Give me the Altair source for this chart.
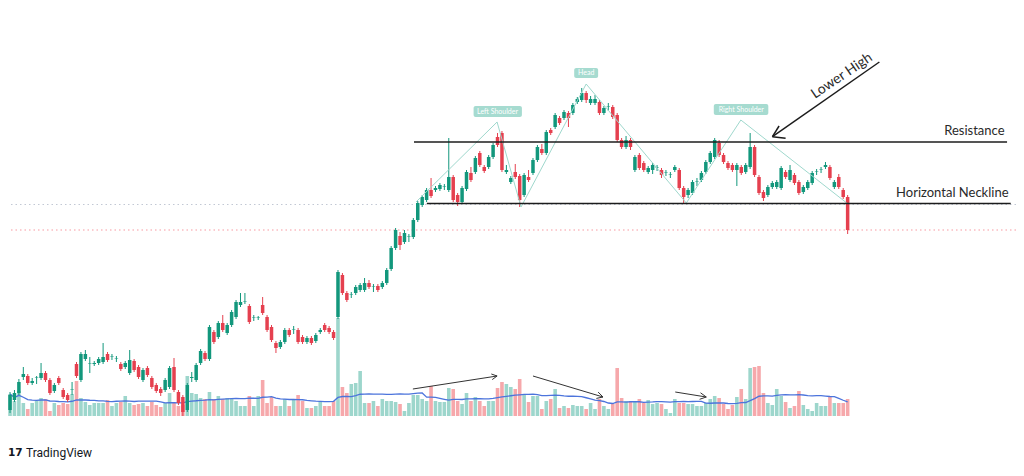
import altair as alt
import pandas as pd

# ---------------- candle data (price units) ----------------
opens = [
    90, 100, 107, 123, 124, 117, 122, 122, 127, 120,
    109, 122, 110, 105, 110, 136, 120, 141, 136, 136,
    137, 138, 146, 143, 141, 136, 133, 127, 139, 133,
    120, 132, 122, 115, 111, 110, 113, 133, 108, 103,
    90, 122, 120, 137,
    147, 141, 168, 163, 177, 167, 175, 183, 195, 198,
    194, 182, 182, 195, 183, 173, 157, 153, 158, 170,
    170, 170, 163, 158, 162, 159, 168, 175, 172, 168,
    183, 225, 207, 205, 207, 210, 210, 217, 213, 214,
    213, 217, 231, 252, 264, 258, 263, 263, 280, 295,
    300, 310, 310, 311, 313, 310, 323, 305, 298, 311,
    327, 328, 347, 333, 333, 343, 363, 367, 328, 318,
    328, 324, 305, 323, 327, 340, 351, 347, 370, 373,
    382, 382, 387, 387, 398, 400, 407, 397, 397, 398,
    387, 393, 393, 385, 360, 353, 360, 330, 345, 337,
    328, 330, 332, 330, 327, 325, 330, 330, 312, 305,
    307, 318, 320, 328, 338, 343, 357, 345, 337, 335,
    330, 333, 328, 333, 353, 323, 308, 305, 313, 313,
    312, 328, 320, 325, 318, 308, 312, 317, 328, 330,
    333, 333, 313, 323, 310, 303,
]
closes = [
    105, 107, 118, 126, 117, 119, 122.5, 127, 120, 107,
    115, 117, 103, 100, 110.5, 124, 146, 146, 136.5, 137,
    141, 143, 140, 143.5, 141.5, 131, 137, 140, 130, 123,
    130, 125, 113, 109, 107, 120, 132, 110, 97, 88,
    115, 123, 135, 149,
    141, 173, 158, 177, 170, 175, 188, 198, 198, 198.5,
    178, 182.5, 182.5, 187, 170, 160, 152, 158, 170, 165,
    170.5, 158, 158, 162, 157, 165, 170, 170, 168, 162,
    228, 207, 200, 205.5, 213, 215, 217, 213, 213.5, 210,
    217, 230, 252, 270, 255, 267, 263.5, 280, 297, 303,
    310, 304, 312, 315, 313.5, 323, 300, 298, 312, 328,
    320, 342, 335, 329, 343, 355, 355, 330, 330, 322,
    323, 300, 325, 320, 340, 353, 347, 368, 367, 385,
    377, 388, 382, 395, 401, 407, 400, 401, 401, 387,
    392, 393.5, 383, 360, 353, 360, 353, 343, 332, 330,
    332, 335, 332.5, 325, 327.5, 325.5, 333, 312, 303, 310,
    318, 318.5, 327, 338, 347, 360, 345, 338, 332, 330,
    335, 327, 335, 353, 325, 307, 302, 313, 317, 318,
    332, 323, 330, 317, 307, 313, 318, 327, 328.5, 330.5,
    335, 322, 318, 313, 303, 270,
]
highs = [
    108, 110, 121, 133, 126, 122, 124, 137, 129, 122,
    117, 124, 112, 107, 118, 138, 148, 150, 143, 139,
    143, 157, 148, 146, 144, 138, 139, 150, 141, 135,
    132, 134, 124, 117, 113, 122, 134, 142, 110, 105,
    117, 128, 137, 151,
    149, 175, 170, 179, 185, 177, 190, 200, 207, 207,
    196, 185, 184, 203, 185, 175, 159, 160, 172, 172,
    174, 172, 165, 164, 164, 167, 172, 177, 174, 170,
    230, 227, 209, 208, 215, 217, 222, 220, 216, 216,
    219, 232, 254, 272, 268, 270, 266, 282, 299, 305,
    312, 322, 314, 317, 316, 362, 325, 307, 314, 330,
    333, 344, 349, 335, 345, 357, 367, 369, 335, 324,
    336, 326, 327, 330, 342, 355, 356, 370, 372, 387,
    384, 390, 389, 397, 403, 412, 409, 404, 405, 400,
    394, 397, 395, 387, 362, 364, 362, 345, 347, 339,
    334, 337, 335, 332, 330, 328, 335, 332, 314, 312,
    320, 322, 329, 340, 349, 362, 360, 347, 339, 337,
    337, 335, 337, 367, 355, 325, 310, 315, 319, 320,
    334, 330, 335, 327, 320, 315, 320, 329, 331, 333,
    338, 335, 320, 326, 312, 305,
]
lows = [
    87, 98, 105, 120, 115, 115, 116, 120, 118, 105,
    107, 115, 101, 98, 105, 122, 118, 139, 127, 134,
    135, 136, 138, 140, 138, 129, 131, 125, 128, 121,
    118, 123, 111, 107, 104, 108, 111, 108, 95, 84,
    88, 118, 118, 135,
    139, 139, 156, 161, 168, 165, 173, 181, 193, 196,
    176, 179, 180, 185, 168, 158, 147, 151, 156, 163,
    166, 156, 156, 156, 155, 157, 166, 168, 166, 160,
    181, 205, 198, 202, 205, 208, 208, 211, 208, 208,
    211, 215, 229, 250, 250, 256, 258, 261, 278, 293,
    298, 302, 308, 309, 310, 308, 298, 294, 296, 309,
    318, 326, 333, 327, 331, 341, 353, 328, 326, 316,
    321, 293, 303, 318, 325, 338, 345, 345, 365, 371,
    375, 380, 373, 385, 396, 398, 397, 395, 395, 385,
    385, 389, 381, 358, 351, 351, 350, 328, 330, 328,
    326, 326, 329, 322, 324, 322, 328, 310, 297, 302,
    305, 314, 318, 326, 336, 341, 343, 336, 330, 328,
    314, 325, 326, 331, 323, 305, 299, 303, 311, 311,
    310, 321, 318, 315, 305, 306, 310, 315, 325, 327,
    331, 320, 311, 311, 301, 266,
]
volumes = [
    22, 15, 25, 13, 7, 13, 15, 18, 17, 5,
    13, 11, 13, 12, 22, 35, 18, 14, 11, 13,
    13, 13, 16, 10, 13, 14, 20, 13, 11, 12,
    13, 10, 14, 11, 9, 13, 23, 13, 10, 11,
    40, 23, 22, 18,
    17, 24, 17, 20, 17, 18, 17, 15, 10, 10,
    20, 10, 20, 36, 13, 19, 10, 10, 17, 10,
    17, 21, 15, 8, 8, 10, 14, 10, 10, 15,
    98, 29, 23, 32, 33, 45, 13, 13, 15, 10,
    17, 15, 15, 14, 12, 5, 13, 21, 21, 17,
    15, 30, 15, 14, 14, 28, 27, 15, 12, 23,
    15, 19, 15, 10, 15, 15, 28, 34, 32, 29,
    27, 37, 22, 14, 20, 20, 7, 15, 17, 27,
    8, 10, 8, 11, 10, 10, 7, 13, 7, 17,
    10, 7, 12, 48, 18, 15, 15, 15, 17, 13,
    16, 12, 13, 12, 7, 3, 17, 13, 13, 12,
    12, 10, 10, 13, 17, 20, 18, 12, 7, 11,
    19, 27, 17, 48, 49, 50, 23, 13, 11, 27,
    20, 14, 8, 10, 25, 11, 7, 5, 13, 10,
    10, 19, 13, 13, 13, 17,
]

# ---------------- annotations (chart coordinates) ----------------
level_names = ["Resistance", "Horizontal Neckline"]
level_price = [358, 296.5]
level_start = [91.15, 94.05]
level_end = [224.97, 225.8]
level_label_i = [224.4, 225.3]
level_label_p = [365, 303]

last_price = [270]
neck_dotted = [295.5]

pattern_i = [91.6, 109.9, 115.3, 130.0, 152.6, 164.9, 188.8]
pattern_p = [298, 378, 293, 416, 297, 380, 297]

tag_names = ["Left Shoulder", "Head", "Right Shoulder"]
tag_i = [110.0, 130.0, 165.0]
tag_p = [388.5, 427, 390.5]
tag_i0 = [104.6, 127.3, 158.8]
tag_i1 = [115.5, 132.7, 171.1]
tag_p0 = [383, 422, 385]
tag_p1 = [394, 432, 396]

arrow_x = [196.16, 172.03, 172.03]
arrow_y = [438, 363.3, 363.3]
arrow_x2 = [172.03, 175.0, 173.53]
arrow_y2 = [363.3, 361.7, 374]
lower_high_i = [187.7]
lower_high_p = [424]

varrow_x = [90.9, 109.9, 109.9, 118.0, 133.8, 133.8, 150.1, 157.1, 157.1]
varrow_v = [27, 40, 40, 40, 19, 19, 24, 19, 19]
varrow_x2 = [109.9, 108.6, 108.8, 133.8, 132.7, 132.3, 157.1, 155.8, 155.6]
varrow_v2 = [40, 42, 36.4, 19, 23.9, 17.6, 19, 23.2, 16.7]

# ---------------- frames ----------------
df = pd.DataFrame({
    "i": list(range(len(opens))),
    "open": opens, "close": closes, "high": highs, "low": lows,
    "volume": volumes,
})
levels = pd.DataFrame({"name": level_names, "price": level_price,
                       "start": level_start, "end": level_end,
                       "li": level_label_i, "lp": level_label_p})
pattern = pd.DataFrame({"i": pattern_i, "p": pattern_p, "k": list(range(len(pattern_i)))})
tags = pd.DataFrame({"name": tag_names, "i": tag_i, "p": tag_p,
                     "i0": tag_i0, "i1": tag_i1, "p0": tag_p0, "p1": tag_p1})
arrows = pd.DataFrame({"x": arrow_x, "y": arrow_y, "x2": arrow_x2, "y2": arrow_y2})
lower = pd.DataFrame({"i": lower_high_i, "p": lower_high_p, "t": ["Lower High"]})
varrows = pd.DataFrame({"x": varrow_x, "v": varrow_v, "x2": varrow_x2, "v2": varrow_v2})

H = 454
xs = alt.Scale(domain=[0.67, 225.86], nice=False, zero=False)
ps = alt.Scale(domain=[492 - H, 492], nice=False, zero=False)
vs = alt.Scale(domain=[408 - H, 408], nice=False, zero=False)

UP, DOWN = "#12977c", "#e5404f"
VUP, VDOWN = "#9dd6cc", "#f6a8ab"
up_cond = "datum.close >= datum.open"

X = alt.X("i:Q", scale=xs, axis=None)

dotted_last = alt.Chart(pd.DataFrame({"price": last_price})).mark_rule(
    color="#f23645", strokeDash=[1.5, 3], strokeWidth=1, opacity=0.5).encode(
    y=alt.Y("price:Q", scale=ps, axis=None))
dotted_neck = alt.Chart(pd.DataFrame({"price": neck_dotted})).mark_rule(
    color="#9aa3b8", strokeDash=[1.5, 3], strokeWidth=1, opacity=0.6).encode(
    y=alt.Y("price:Q", scale=ps, axis=None))

vol_bars = alt.Chart(df).mark_bar(width=3.6).encode(
    x=X, y=alt.Y("volume:Q", scale=vs, axis=None), y2=alt.datum(0),
    color=alt.condition(up_cond, alt.value(VUP), alt.value(VDOWN)))

vol_ma = alt.Chart(df).transform_window(
    ma="mean(volume)", frame=[-19, 0], sort=[alt.SortField("i")]
).mark_line(color="#4c74dc", strokeWidth=1.3).encode(
    x=X, y=alt.Y("ma:Q", scale=vs, axis=None))

vol_arrows = alt.Chart(varrows).mark_rule(color="#333333", strokeWidth=1).encode(
    x=alt.X("x:Q", scale=xs, axis=None), x2="x2:Q",
    y=alt.Y("v:Q", scale=vs, axis=None), y2="v2:Q")

wicks = alt.Chart(df).mark_rule(strokeWidth=1).encode(
    x=X, y=alt.Y("low:Q", scale=ps, axis=None), y2="high:Q",
    color=alt.condition(up_cond, alt.value(UP), alt.value(DOWN)))

bodies = alt.Chart(df).mark_bar(width=3.5).encode(
    x=X, y=alt.Y("open:Q", scale=ps, axis=None), y2="close:Q",
    color=alt.condition(up_cond, alt.value(UP), alt.value(DOWN)))

pattern_line = alt.Chart(pattern).mark_line(color="#9fd8cd", strokeWidth=1).encode(
    x=alt.X("i:Q", scale=xs, axis=None), y=alt.Y("p:Q", scale=ps, axis=None), order="k:Q")

level_lines = alt.Chart(levels).mark_rule(color="#1c1c1c", strokeWidth=1.6).encode(
    x=alt.X("start:Q", scale=xs, axis=None), x2="end:Q",
    y=alt.Y("price:Q", scale=ps, axis=None))

level_text = alt.Chart(levels).mark_text(align="right", baseline="alphabetic", font="Lato",
                                         fontSize=13, color="#2a2a2a").encode(
    x=alt.X("li:Q", scale=xs, axis=None), y=alt.Y("lp:Q", scale=ps, axis=None), text="name:N")

tag_box = alt.Chart(tags).mark_rect(color="#a6dbd0", cornerRadius=2).encode(
    x=alt.X("i0:Q", scale=xs, axis=None), x2="i1:Q",
    y=alt.Y("p0:Q", scale=ps, axis=None), y2="p1:Q")

tag_text = alt.Chart(tags).mark_text(align="center", baseline="middle", font="Lato",
                                     fontSize=7, color="white").encode(
    x=alt.X("i:Q", scale=xs, axis=None), y=alt.Y("p:Q", scale=ps, axis=None), text="name:N")

arrow_lines = alt.Chart(arrows).mark_rule(color="#1c1c1c", strokeWidth=1.5).encode(
    x=alt.X("x:Q", scale=xs, axis=None), x2="x2:Q",
    y=alt.Y("y:Q", scale=ps, axis=None), y2="y2:Q")

lower_text = alt.Chart(lower).mark_text(align="center", baseline="middle", font="Lato",
                                        fontSize=14, angle=326, color="#2a2a2a").encode(
    x=alt.X("i:Q", scale=xs, axis=None), y=alt.Y("p:Q", scale=ps, axis=None), text="t:N")

logo = alt.Chart(pd.DataFrame({"t": ["17"]})).mark_text(
    align="left", baseline="middle", font="DejaVu Sans", fontWeight="bold", fontSize=10.5,
    color="#131722").encode(x=alt.value(0), y=alt.value(H - 9), text="t:N")

brand = alt.Chart(pd.DataFrame({"t": ["TradingView"]})).mark_text(
    align="left", baseline="middle", font="Roboto", fontSize=12,
    color="#131722").encode(x=alt.value(18), y=alt.value(H - 9), text="t:N")

chart = alt.layer(
    dotted_neck, dotted_last, vol_bars, vol_ma, vol_arrows, wicks, bodies, pattern_line,
    level_lines, level_text, tag_box, tag_text, arrow_lines, lower_text, logo, brand
).resolve_scale(y="independent").properties(
    width=1008, height=H, padding=0,
    autosize=alt.AutoSizeParams(type="none"),
    background="white",
).configure_view(strokeWidth=0)

chart.save("out.html", embed_options={"renderer": "svg", "actions": False})
